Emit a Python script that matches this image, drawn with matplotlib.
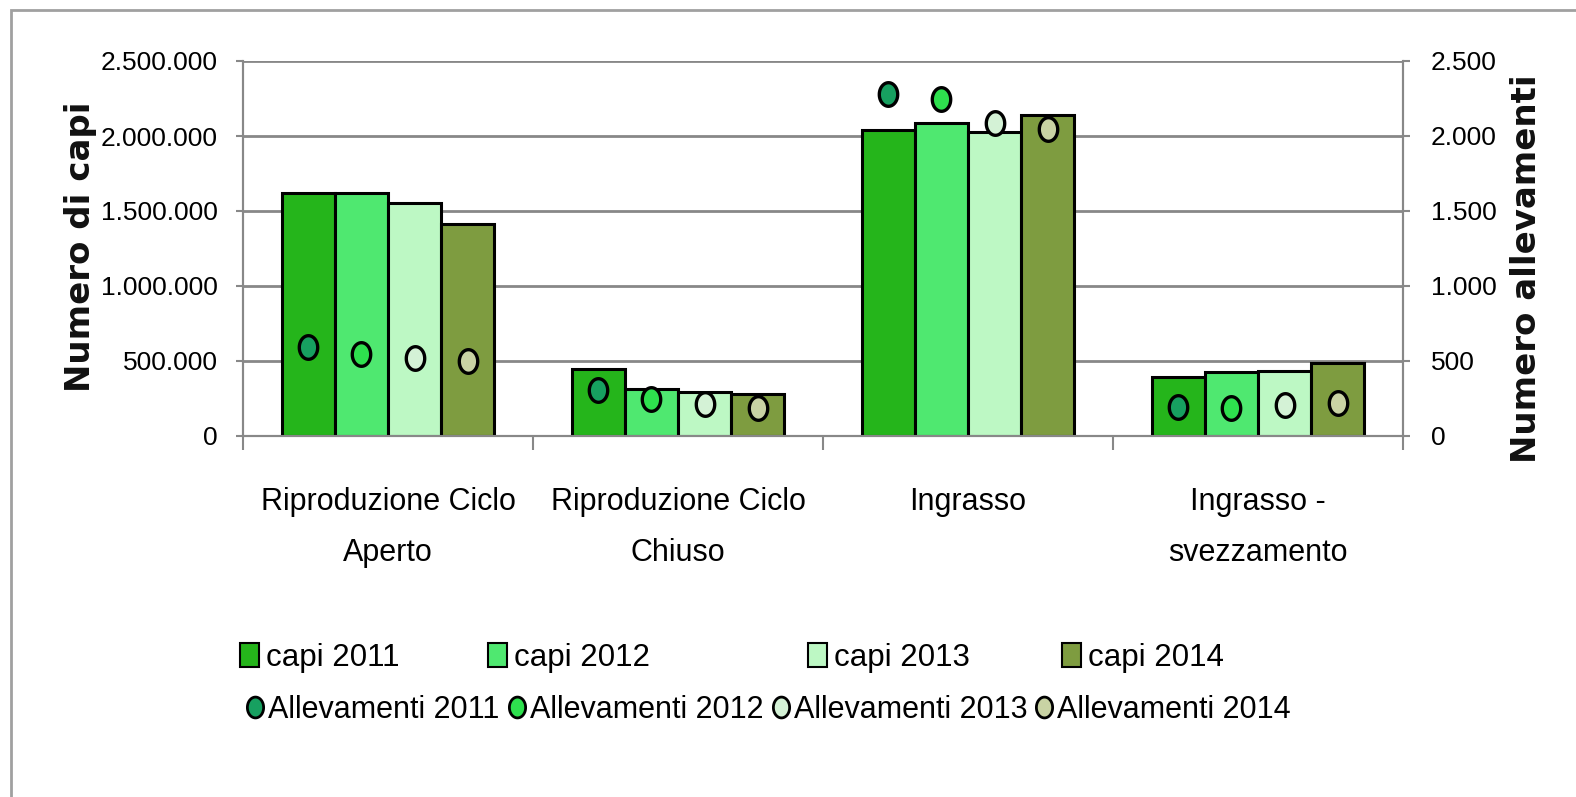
import numpy as np
import matplotlib
matplotlib.use("Agg")
import matplotlib.pyplot as plt
from matplotlib.patches import Rectangle
from matplotlib.lines import Line2D
from matplotlib.path import Path
from matplotlib.ticker import FuncFormatter

categories = ["Riproduzione Ciclo\nAperto", "Riproduzione Ciclo\nChiuso", "Ingrasso", "Ingrasso -\nsvezzamento"]
years = ["2011", "2012", "2013", "2014"]

# capi (left axis)
capi_2011 = [1620000, 447000, 2040000, 393000]
capi_2012 = [1620000, 313000, 2087000, 427000]
capi_2013 = [1553000, 293000, 2027000, 433000]
capi_2014 = [1413000, 280000, 2140000, 487000]

# allevamenti (right axis)
allev_2011 = [593, 307, 2280, 193]
allev_2012 = [547, 247, 2247, 187]
allev_2013 = [520, 213, 2087, 207]
allev_2014 = [500, 187, 2047, 220]

capi = [capi_2011, capi_2012, capi_2013, capi_2014]
allev = [allev_2011, allev_2012, allev_2013, allev_2014]

bar_colors = ["#25b51b", "#4fe870", "#bdf8c4", "#7e9c40"]
dot_colors = ["#17a060", "#2ee04e", "#d4f2d6", "#c9d3a4"]

plt.rcParams["font.family"] = ["Liberation Sans", "DejaVu Sans"]

# slightly tall ellipse used as dot marker
t = np.linspace(0, 2 * np.pi, 60)
ellipse = Path(np.column_stack([0.78 * np.cos(t), np.sin(t)]), closed=True)

W, H = 1576, 797
fig = plt.figure(figsize=(W / 100, H / 100), dpi=100)
ax = fig.add_axes([243 / W, 1 - 436 / H, (1403 - 243) / W, (436 - 61) / H])
ax2 = ax.twinx()

grid_c = "#888888"
x = np.arange(len(categories))
bw = 0.183
for i in range(4):
    pos = x + (i - 1.5) * bw
    ax.bar(pos, capi[i], width=bw, color=bar_colors[i], edgecolor="black",
           linewidth=2.2, zorder=3)
    ax2.plot(pos, allev[i], linestyle="none", marker=ellipse, markersize=17,
             markerfacecolor=dot_colors[i], markeredgecolor="black",
             markeredgewidth=2.4, zorder=4)

ax.set_xlim(-0.5, 3.5)
ax.set_ylim(0, 2500000)
ax2.set_ylim(0, 2500)
ax.set_yticks(np.arange(0, 2500001, 500000))
ax2.set_yticks(np.arange(0, 2501, 500))
fmt = FuncFormatter(lambda v, p: f"{int(v):,}".replace(",", "."))
ax.yaxis.set_major_formatter(fmt)
ax2.yaxis.set_major_formatter(fmt)

ax.set_xticks(x)
ax.set_xticklabels(categories, fontsize=22, linespacing=1.9)
ax.set_xticks(np.arange(-0.5, 4.0, 1.0), minor=True)
ax.tick_params(axis="x", which="major", length=0, pad=37)
ax.tick_params(axis="x", which="minor", length=10, width=1.5, color=grid_c)
ax.tick_params(axis="y", length=5, width=1.5, color=grid_c, labelsize=19, pad=13)
ax2.tick_params(axis="y", length=5, width=1.5, color=grid_c, labelsize=19, pad=15)

ax.yaxis.grid(True, color=grid_c, linewidth=2)
ax.set_axisbelow(True)
ax.set_zorder(ax2.get_zorder() - 1)
ax.patch.set_visible(False)
for a in (ax, ax2):
    a.spines["top"].set_visible(False)
    for s in ("left", "right", "bottom"):
        a.spines[s].set_color(grid_c)
        a.spines[s].set_linewidth(1.5)

fig.text(81 / W, 1 - 247 / H, "Numero di capi", rotation=90, ha="center", va="center",
         fontsize=24.5, fontweight="bold", family="DejaVu Sans", color="#111111")
fig.text(1527 / W, 1 - 269 / H, "Numero allevamenti", rotation=90, ha="center", va="center",
         fontsize=24.5, fontweight="bold", family="DejaVu Sans", color="#111111")

# legend, row 1: bars
sq_x = [240, 488, 808, 1062]
for i in range(4):
    fig.patches.append(Rectangle((sq_x[i] / W, 1 - 667 / H), 19 / W, 24 / H,
                                 transform=fig.transFigure, facecolor=bar_colors[i],
                                 edgecolor="black", linewidth=1.5))
    fig.text((sq_x[i] + 26) / W, 1 - 658 / H, "capi " + years[i], ha="left",
             va="center", fontsize=22.5)

# legend, row 2: dots
dot_x = [255, 517, 781, 1044]
for i in range(4):
    fig.add_artist(Line2D([dot_x[i] / W], [1 - 707 / H], transform=fig.transFigure,
                          marker=ellipse, markersize=15, markerfacecolor=dot_colors[i],
                          markeredgecolor="black", markeredgewidth=2))
    fig.text((dot_x[i] + 13) / W, 1 - 710 / H, "Allevamenti " + years[i], ha="left",
             va="center", fontsize=22)

# outer frame
fig.patches.append(Rectangle((11 / W, -0.02), 1.1, 1 - 10 / H + 0.02,
                             transform=fig.transFigure, fill=False,
                             edgecolor="#a0a0a0", linewidth=2))

fig.savefig("out.png", dpi=100)
